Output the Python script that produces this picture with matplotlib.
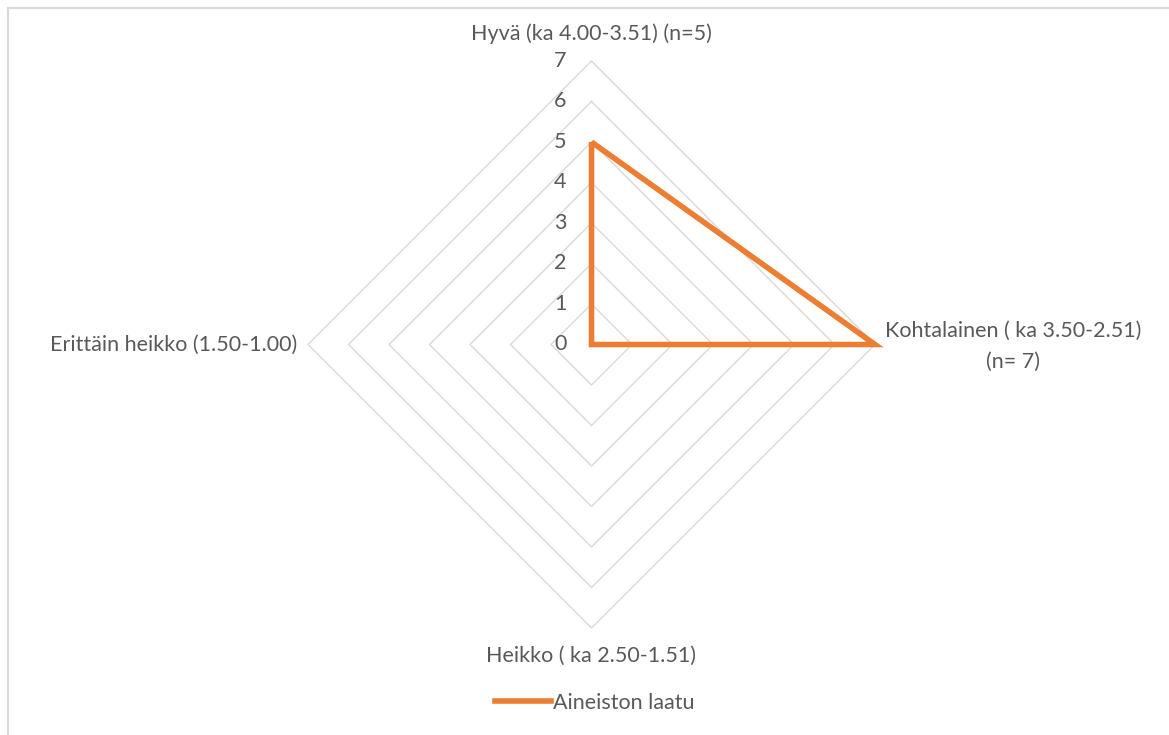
#!/usr/bin/env python3
"""Radar chart: Aineiston laatu by quality category (Excel-style diamond grid)."""

import matplotlib

matplotlib.use("Agg")
import matplotlib.pyplot as plt
import numpy as np
from matplotlib.lines import Line2D

# Data.
categories = [
    "Hyvä (ka 4.00-3.51) (n=5)",
    "Kohtalainen ( ka 3.50-2.51)\n(n= 7)",
    "Heikko ( ka 2.50-1.51)",
    "Erittäin heikko (1.50-1.00)",
]
values = [5, 7, 0, 0]
series_name = "Aineiston laatu"
rings = [1, 2, 3, 4, 5, 6, 7]
tick_labels = ["0", "1", "2", "3", "4", "5", "6", "7"]

ORANGE = "#ED7D31"
GRID = "#D9D9D9"
TEXT = "#595959"
FS = 15.5

plt.rcParams["font.family"] = ["Lato", "DejaVu Sans"]

W, H, DPI = 1169, 735, 100
fig = plt.figure(figsize=(W / DPI, H / DPI), dpi=DPI)

# Axes spans the whole figure; data units chosen so 1 unit ≈ 40.5 px.
CX, CY, UNIT = 591.5, 344.5, 40.5
ax = fig.add_axes([0, 0, 1, 1])
ax.set_xlim(-CX / UNIT, (W - CX) / UNIT)
ax.set_ylim(-(H - CY) / UNIT, CY / UNIT)
ax.axis("off")

# Angles: first category at top, clockwise.
n = len(categories)
angles = np.pi / 2 - np.arange(n) * 2 * np.pi / n


def to_xy(r, ang):
    return np.asarray(r) * np.cos(ang), np.asarray(r) * np.sin(ang)


# Diamond grid rings.
for r in rings:
    gx, gy = to_xy([r] * (n + 1), np.append(angles, angles[0]))
    ax.plot(gx, gy, color=GRID, linewidth=1.0, zorder=1)

# Series polygon.
vals = np.append(values, values[0])
sx, sy = to_xy(vals, np.append(angles, angles[0]))
ax.plot(sx, sy, color=ORANGE, linewidth=4.0, solid_joinstyle="miter",
        solid_capstyle="butt", zorder=3)

# Radial tick labels along the vertical axis.
for i, lab in enumerate(tick_labels):
    ax.text(-0.62, i, lab, ha="right", va="center", fontsize=FS,
            color=TEXT)

# Category labels.
rmax = max(rings)
ax.text(0, rmax + 0.68, categories[0], ha="center", va="center",
        fontsize=FS, color=TEXT)
ax.text(rmax + 0.25, -0.05, categories[1], ha="left", va="center",
        fontsize=FS, color=TEXT, multialignment="center",
        linespacing=1.65)
ax.text(0, -rmax - 0.7, categories[2], ha="center", va="center",
        fontsize=FS, color=TEXT)
ax.text(-rmax - 0.27, 0, categories[3], ha="right", va="center",
        fontsize=FS, color=TEXT)

# Legend below the chart.
handle = Line2D([0], [0], color=ORANGE, linewidth=4.0)
fig.legend([handle], [series_name], loc="center",
           bbox_to_anchor=(594.5 / W, 1 - 703 / H), frameon=False,
           fontsize=FS, labelcolor=TEXT, handlelength=2.6,
           handletextpad=0.1)

# Chart-area border (only top and left visible in the crop).
fig.add_artist(Line2D([8 / W, 1], [1 - 8 / H, 1 - 8 / H],
                      transform=fig.transFigure, color=GRID, linewidth=1.5))
fig.add_artist(Line2D([8 / W, 8 / W], [1 - 8 / H, 0],
                      transform=fig.transFigure, color=GRID, linewidth=1.5))

fig.savefig("out.png", dpi=DPI, facecolor="white")
